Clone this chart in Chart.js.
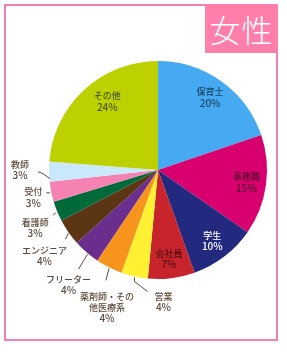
<!DOCTYPE html>
<html lang="ja">
<head>
<meta charset="utf-8">
<script src="https://cdn.jsdelivr.net/npm/chart.js@4"></script>
<style>
  body { margin: 0; background: #fff; }
  .wrap { position: relative; width: 287px; height: 355px; }
  .frame {
    position: absolute; left: 4px; top: 4px; width: 270px; height: 333px;
    border: 2px solid #f57fb0;
  }
  .title {
    position: absolute; left: 205px; top: 4px; width: 73px; height: 49px;
    background: #ff7eaa; color: #fff;
    font: 300 31px "Noto Sans CJK JP", sans-serif;
    line-height: 49px; text-align: center; letter-spacing: 1px;
  }
  canvas { position: absolute; left: 0; top: 0; }
</style>
</head>
<body>
<div class="wrap">
  <div class="frame"></div>
  <div class="title">女性</div>
  <canvas id="pie" width="287" height="355"></canvas>
</div>
<script>
  // data (clockwise from 12 o'clock)
  const categories = ['保育士', '事務職', '学生', '会社員', '営業', '薬剤師・その他医療系',
    'フリーター', 'エンジニア', '看護師', '受付', '教師', 'その他'];
  const shares = [20, 15, 10, 7, 4, 4, 4, 4, 3, 3, 3, 24];
  const labelText = ['保育士', '事務職', '学生', '会社員', '営業', '薬剤師・その\n他医療系',
    'フリーター', 'エンジニア', '看護師', '受付', '教師', 'その他'];

  const sliceColors = ['#45aaf2', '#d7006e', '#23297f', '#c8242c', '#fff034', '#f7941d',
    '#6b2d8e', '#5c3614', '#006a3a', '#f682b3', '#c9e8f9', '#bdd000'];

  // where each label sits. inner = along the middle of the slice,
  // outer = offset from the slice edge with a small leader line
  const labelLayout = [
    { inner: true, color: 'rgba(0,0,0,0.62)' },
    { inner: true, color: 'rgba(0,0,0,0.6)' },
    { inner: true, color: '#fff' },
    { inner: true, color: 'rgba(0,0,0,0.6)' },
    { dx: 29, dy: 20, line: [[0, 1], [0, 5], [13, 15]] },
    { dx: -2, dy: 29, line: [[0, 1], [-3, 13]] },
    { dx: -18, dy: 27, line: [[1, 2], [-8, 17]] },
    { dx: -24, dy: 18, line: [[0, 1], [-3, 7]] },
    { dx: -22, dy: 11, line: [[-1, 1], [-4, 4]] },
    { dx: -18, dy: 0, line: [[-1, 1], [-5, 1]] },
    { dx: -29, dy: -7, line: [[1, 7], [-6, 2], [-11, 0]] },
    { inner: true, color: 'rgba(0,0,0,0.6)', nx: 10, ny: -3 }
  ];

  const textBrown = '#5e4b3c';
  const fontFamily = '"Noto Sans CJK JP", "Noto Sans", sans-serif';

  const pieLabels = {
    id: 'pieLabels',
    afterDatasetsDraw(chart) {
      const ctx = chart.ctx;
      const meta = chart.getDatasetMeta(0);
      ctx.save();
      ctx.textAlign = 'center';
      ctx.textBaseline = 'middle';
      meta.data.forEach((arc, i) => {
        const p = arc.getProps(['x', 'y', 'startAngle', 'endAngle', 'outerRadius'], true);
        const mid = (p.startAngle + p.endAngle) / 2;
        const lay = labelLayout[i];
        const lines = labelText[i].split('\n').concat([shares[i] + '%']);
        let lx, ly;
        if (lay.inner) {
          lx = p.x + Math.cos(mid) * p.outerRadius * 0.82 + (lay.nx || 0);
          ly = p.y + Math.sin(mid) * p.outerRadius * 0.82 + (lay.ny || 0) - 5.5;
          ctx.fillStyle = lay.color;
        } else {
          const ex = p.x + Math.cos(mid) * p.outerRadius;
          const ey = p.y + Math.sin(mid) * p.outerRadius;
          lx = ex + lay.dx;
          ly = ey + lay.dy;
          ctx.strokeStyle = textBrown;
          ctx.lineWidth = 1;
          ctx.beginPath();
          lay.line.forEach((pt, k) => {
            if (k === 0) ctx.moveTo(ex + pt[0], ey + pt[1]);
            else ctx.lineTo(ex + pt[0], ey + pt[1]);
          });
          ctx.stroke();
          ctx.fillStyle = textBrown;
        }
        lines.forEach((t, k) => {
          const isPct = k === lines.length - 1;
          ctx.font = '500 ' + (isPct ? '10px ' : '9px ') + fontFamily;
          ctx.fillText(t, lx, ly + k * 11);
        });
      });
      ctx.restore();
    }
  };

  new Chart(document.getElementById('pie'), {
    type: 'pie',
    data: {
      labels: categories,
      datasets: [{
        data: shares,
        backgroundColor: sliceColors,
        borderWidth: 0,
        hoverOffset: 0
      }]
    },
    options: {
      responsive: false,
      animation: false,
      layout: { padding: { left: 49, right: 20, top: 61, bottom: 76 } },
      plugins: {
        legend: { display: false },
        tooltip: { enabled: false }
      }
    },
    plugins: [pieLabels]
  });
</script>
</body>
</html>
